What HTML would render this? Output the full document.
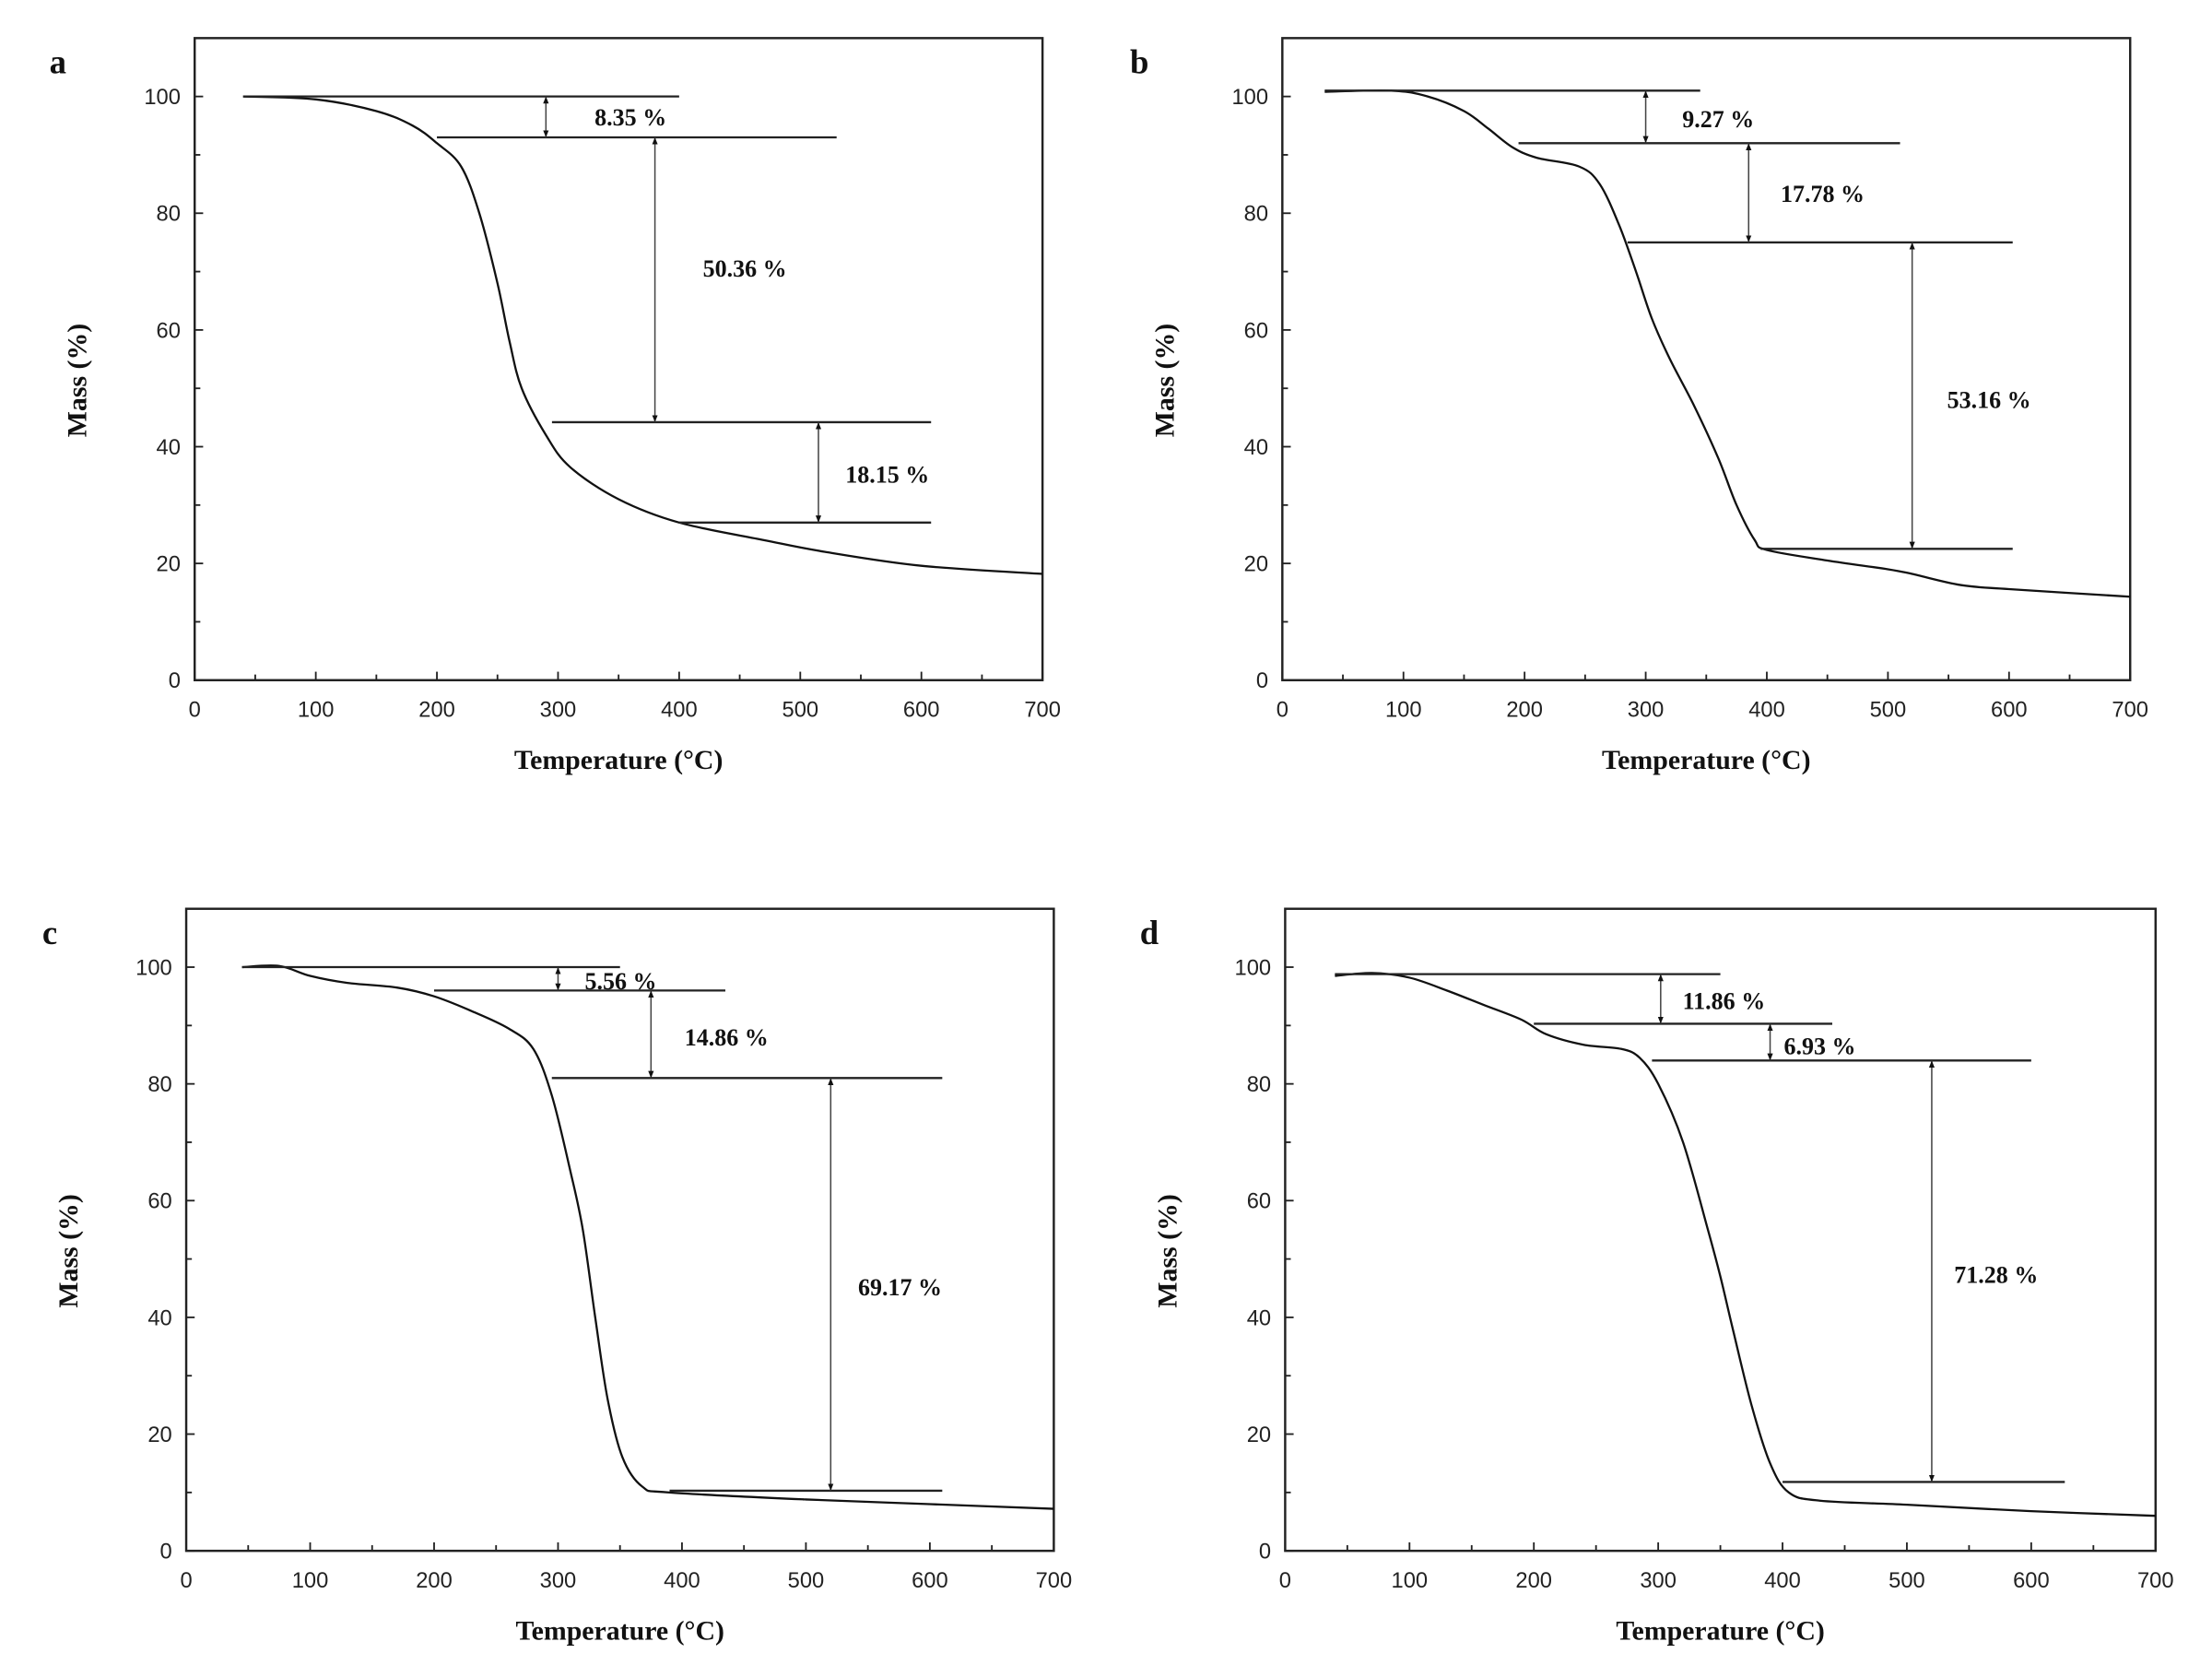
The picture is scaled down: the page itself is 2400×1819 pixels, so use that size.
<!DOCTYPE html>
<html><head><meta charset="utf-8"><style>
html,body{margin:0;padding:0;background:#fff;}
svg{display:block;}
.tk{font-family:"Liberation Sans",sans-serif;font-size:15.5px;fill:#222;}
.an{font-family:"Liberation Serif",serif;font-weight:bold;font-size:17px;fill:#111;}
.ti{font-family:"Liberation Serif",serif;font-weight:bold;font-size:19.5px;fill:#111;}
.pl{font-family:"Liberation Serif",serif;font-weight:bold;font-size:24px;fill:#111;}
</style></head><body>
<svg id="s" width="2400" height="1819" viewBox="0 0 1568 1188.4" xmlns="http://www.w3.org/2000/svg">
<rect width="1568" height="1189" fill="#fff"/>
<text class="pl" x="35" y="52">a</text>
<text class="pl" x="801" y="52">b</text>
<text class="pl" x="30" y="669">c</text>
<text class="pl" x="808" y="669">d</text>
</svg>
<script>
var S=document.getElementById('s'),NS='http://www.w3.org/2000/svg';
function el(t,a,txt){var e=document.createElementNS(NS,t);for(var k in a)e.setAttribute(k,a[k]);if(txt)e.textContent=txt;S.appendChild(e);return e;}
var P=[
{l:138,r:739,t:27,b:482,
c:[[40,100],[100,99.5],[150,97.5],[180,95],[200,92],[220,88],[235,80],[250,68],[260,58],[270,50],[290,42],[310,36.5],[350,31],[400,27],[470,24],[520,22],[600,19.6],[700,18.2]],
h:[[100,40,400],[93,200,530],[44.2,295,608],[27,400,608]],
a:[[290,100,93],[380,93,44.2],[515,44.2,27]],
tx:[["8.35 %",447,89],["50.36 %",528,196],["18.15 %",629,342]]},
{l:909,r:1510,t:27,b:482,
c:[[35,100.8],[90,101],[120,100],[150,97.5],[170,94.5],[190,91.3],[210,89.5],[245,88],[262,85],[278,78],[292,70],[305,62],[320,55],[340,47],[360,38],[375,30],[390,24],[400,22.3],[450,20.5],[500,19],[520,18.2],[560,16.3],[600,15.6],[700,14.3]],
h:[[101,35,345],[92,195,510],[75,285,603],[22.5,395,603]],
a:[[300,101,92],[385,92,75],[520,75,22.5]],
tx:[["9.27 %",1218,90],["17.78 %",1292,143],["53.16 %",1410,289]]},
{l:132,r:747,t:644,b:1099,
c:[[45,100],[75,100.2],[100,98.5],[130,97.3],[170,96.5],[200,95],[230,92.5],[260,89.5],[280,86],[295,78],[310,65],[320,55],[330,40],[340,26],[352,16],[368,11],[390,10],[500,8.8],[600,8],[700,7.2]],
h:[[100,45,350],[96,200,435],[81,295,610],[10.3,390,610]],
a:[[300,100,96],[375,96,81],[520,81,10.3]],
tx:[["5.56 %",440,701],["14.86 %",515,741],["69.17 %",638,918]]},
{l:911,r:1528,t:644,b:1099,
c:[[40,98.5],[70,99],[100,98.2],[130,96],[160,93.5],[190,91],[210,88.5],[240,86.7],[270,86],[285,84.5],[300,80],[320,70],[340,55],[350,47],[360,38],[375,25],[390,15],[405,10],[430,8.6],[500,7.9],[600,6.8],[700,6]],
h:[[98.8,40,350],[90.3,200,440],[84,295,600],[11.8,400,627]],
a:[[302,98.8,90.3],[390,90.3,84],[520,84,11.8]],
tx:[["11.86 %",1222,715],["6.93 %",1290,747],["71.28 %",1415,909]]}
];
el('defs',{}).innerHTML='<marker id="m" viewBox="0 0 10 10" refX="10" refY="5" markerWidth="5" markerHeight="5" orient="auto-start-reverse"><path d="M0,1L10,5L0,9z" fill="#111"/></marker>';
P.forEach(function(p){
 var w=p.r-p.l,hh=p.b-p.t;
 function X(x){return p.l+x/700*w;} function Y(v){return p.b-v/110*hh;}
 el('rect',{x:p.l,y:p.t,width:w,height:hh,fill:'none',stroke:'#222','stroke-width':1.6});
 for(var x=0;x<=700;x+=50){var maj=x%100==0;el('line',{x1:X(x),x2:X(x),y1:p.b,y2:p.b-(maj?6:4),stroke:'#222','stroke-width':1.2});
  if(maj)el('text',{class:'tk',x:X(x),y:p.b+26,'text-anchor':'middle'},''+x);}
 for(var v=0;v<=100;v+=10){var mj=v%20==0;el('line',{x1:p.l,x2:p.l+(mj?6:4),y1:Y(v),y2:Y(v),stroke:'#222','stroke-width':1.2});
  if(mj)el('text',{class:'tk',x:p.l-10,y:Y(v)+5.5,'text-anchor':'end'},''+v);}
 var cx=(p.l+p.r)/2;
 el('text',{class:'ti',x:cx,y:p.b+63,'text-anchor':'middle'},'Temperature (°C)');
 var yy=(p.t+p.b)/2+15;
 el('text',{class:'ti',x:0,y:0,'text-anchor':'middle',transform:'translate('+(p.l-77)+','+yy+') rotate(-90)'},'Mass (%)');
 var pts=p.c.map(function(q){return [X(q[0]),Y(q[1])];});
 var d='M'+pts[0][0]+','+pts[0][1];
 for(var i=0;i<pts.length-1;i++){var p0=pts[i-1]||pts[i],p1=pts[i],p2=pts[i+1],p3=pts[i+2]||p2;
  d+='C'+(p1[0]+(p2[0]-p0[0])/6)+','+(p1[1]+(p2[1]-p0[1])/6)+' '+(p2[0]-(p3[0]-p1[0])/6)+','+(p2[1]-(p3[1]-p1[1])/6)+' '+p2[0]+','+p2[1];}
 el('path',{d:d,fill:'none',stroke:'#111','stroke-width':1.5});
 p.h.forEach(function(q){el('line',{x1:X(q[1]),x2:X(q[2]),y1:Y(q[0]),y2:Y(q[0]),stroke:'#222','stroke-width':1.5});});
 p.a.forEach(function(q){el('line',{x1:X(q[0]),x2:X(q[0]),y1:Y(q[1]),y2:Y(q[2]),stroke:'#444','stroke-width':1,'marker-start':'url(#m)','marker-end':'url(#m)'});});
 p.tx.forEach(function(q){el('text',{class:'an',x:q[1],y:q[2],'text-anchor':'middle'},q[0]);});
});
</script>
</body></html>
